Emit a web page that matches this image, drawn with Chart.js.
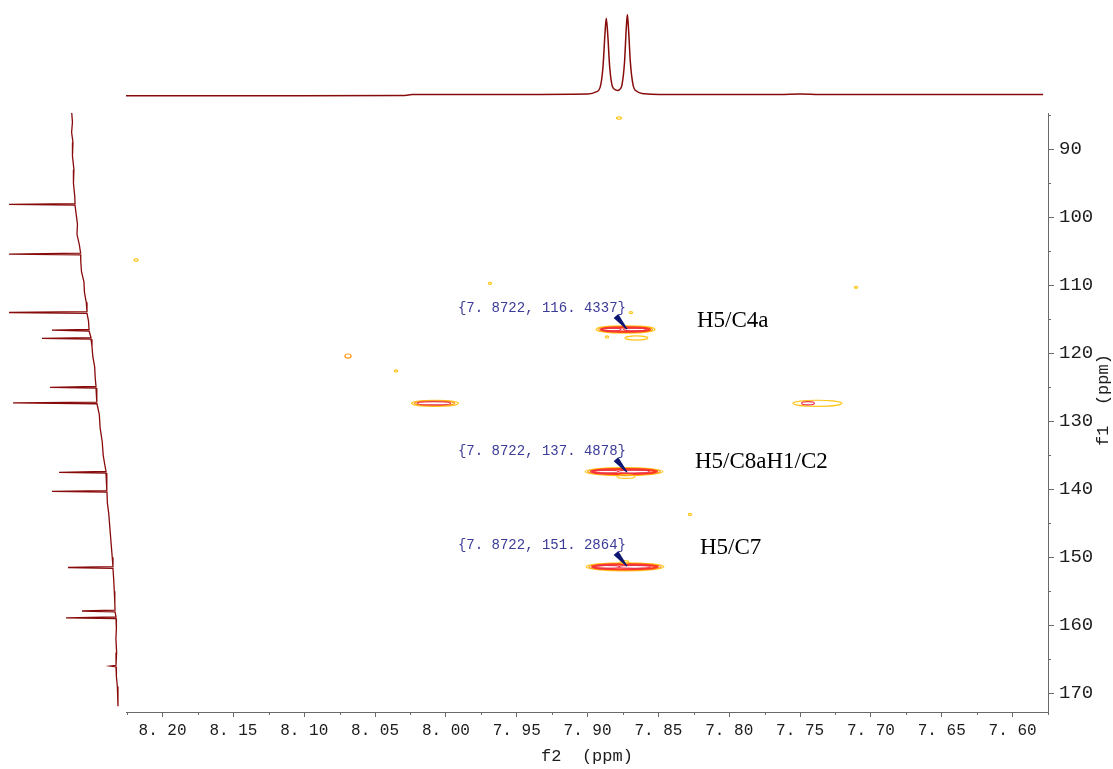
<!DOCTYPE html>
<html>
<head>
<meta charset="utf-8">
<title>HMBC</title>
<script src="https://cdn.jsdelivr.net/npm/chart.js@4.4.1/dist/chart.umd.min.js"></script>
<style>
    html, body { margin: 0; padding: 0; background: #fff; }
    #wrap { position: relative; width: 1113px; height: 769px; }
    #wrap canvas { position: absolute; left: 0; top: 0; }
</style>
</head>
<body>
<div id="wrap">
    <canvas id="mainChart" width="1113" height="769"></canvas>
    <canvas id="topChart" width="1113" height="113"></canvas>
    <canvas id="leftChart" width="126" height="769"></canvas>
</div>
<script>
// =========================
// DATA
// =========================
const f2Min = 7.575, f2Max = 8.2258;
const f1Min = 84.66, f1Max = 172.75;

const f2Ticks = [8.20, 8.15, 8.10, 8.05, 8.00, 7.95, 7.90, 7.85, 7.80, 7.75, 7.70, 7.65, 7.60];
const f2Minor = [8.225, 8.175, 8.125, 8.075, 8.025, 7.975, 7.925, 7.875, 7.825, 7.775, 7.725, 7.675, 7.625, 7.575];
const f1Ticks = [90, 100, 110, 120, 130, 140, 150, 160, 170];
const f1Minor = [85, 95, 105, 115, 125, 135, 145, 155, 165];

// 1H projection (f2)
const topPpm = [8.2258, 8.1030, 8.0289, 8.0239, 7.9618, 7.8997, 7.8940, 7.8912, 7.8891, 7.8877, 7.8868,
                7.8858, 7.8844, 7.8824, 7.8799, 7.8788, 7.8774, 7.8757, 7.8739, 7.8727, 7.8719, 7.8711,
                7.8698, 7.8679, 7.8651, 7.8594, 7.8489, 7.7642, 7.7500, 7.7359, 7.5785];
const topInt = [4.6, 4.6, 4.7, 5.7, 5.9, 6.4, 8.5, 13, 35, 70, 86,
                70, 35, 14, 10.5, 10, 11, 16, 40, 75, 90, 75,
                40, 16, 9, 6.5, 5.8, 5.7, 6.3, 5.8, 5.8];

// 13C projection (f1): sloping, slightly ragged baseline + peaks
const sideBasePpm = [84.66, 86, 87.5, 89, 91, 93, 95, 97, 99.5, 101, 102.5, 104, 106.5, 108, 109.5, 111, 112.5,
                     115.2, 119, 120.5, 122, 123.5, 126, 129, 131, 133, 135, 136.5, 139, 142, 143.5, 146, 148,
                     150, 153, 155, 156.8, 160.5, 162, 164, 167.5, 169, 171.9];
const sideBaseInt = [41.2, 40.6, 41.3, 40.2, 40.6, 39.4, 39.8, 38.7, 37.6, 36.5, 36.9, 35.0, 33.8, 33.2, 31.2, 30.8, 29.3,
                     27.5, 24.6, 23.9, 22.4, 22.0, 20.8, 18.6, 17.9, 16.2, 15.4, 14.0, 12.6, 12.0, 10.9, 9.8, 8.9,
                     8.0, 6.9, 6.3, 5.9, 4.6, 5.0, 4.4, 4.6, 3.8, 3.3];
const sidePeakPpm  = [98.1, 105.4, 114.0, 116.6, 117.8, 125.0, 127.3, 137.5, 140.3, 151.5, 157.9, 158.9, 166.0];
const sidePeakTip  = [92.6, 92.6, 92.6, 57.4, 65.6, 59.0, 89.3, 51.6, 57.4, 44.3, 32.8, 45.9, 9.8];
const sidePeakBase = [38.5, 33.9, 28.7, 27.0, 25.4, 21.3, 20.5, 13.1, 12.3, 7.4, 5.7, 4.9, 4.9];

// contour ellipses: centre (f2, f1), half widths (f2, f1), contour level
const contourF2 = [7.8732, 7.8732, 7.8732, 7.8835, 7.8666, 7.8655, 7.8863, 7.8694,
                   7.8743, 7.8743, 7.8743, 7.8878, 7.8674, 7.8729,
                   7.8736, 7.8736, 7.8736, 7.8870, 7.8668, 7.8740,
                   8.0077, 8.0080, 8.0084,
                   7.7377, 7.7444,
                   7.8778, 8.2187, 7.9689, 7.7105, 8.0691, 8.0352, 7.8277];
const contourF1 = [116.50, 116.50, 116.50, 116.50, 116.50, 117.75, 117.60, 114.00,
                   137.40, 137.40, 137.40, 137.40, 137.40, 138.10,
                   151.40, 151.40, 151.40, 151.40, 151.40, 150.70,
                   127.35, 127.35, 127.35,
                   127.35, 127.35,
                   85.40, 106.30, 109.70, 110.30, 120.40, 122.60, 143.70];
const contourW  = [0.0208, 0.0190, 0.0172, 0.0072, 0.0080, 0.0081, 0.0012, 0.0012,
                   0.0275, 0.0255, 0.0232, 0.0095, 0.0110, 0.0063,
                   0.0275, 0.0255, 0.0232, 0.0095, 0.0110, 0.0030,
                   0.0166, 0.0142, 0.0118,
                   0.0173, 0.0045,
                   0.0018, 0.0015, 0.0012, 0.0012, 0.0022, 0.0012, 0.0012];
const contourH  = [0.52, 0.42, 0.32, 0.20, 0.20, 0.30, 0.15, 0.15,
                   0.60, 0.48, 0.36, 0.22, 0.22, 0.28,
                   0.60, 0.48, 0.36, 0.22, 0.22, 0.20,
                   0.45, 0.34, 0.24,
                   0.45, 0.24,
                   0.18, 0.18, 0.15, 0.15, 0.30, 0.15, 0.15];
const contourLevel = [0, 1, 2, 3, 3, 0, 0, 0,
                      0, 1, 2, 3, 3, 0,
                      0, 1, 2, 3, 3, 0,
                      0, 1, 3,
                      0, 3,
                      0, 0, 0, 0, 1, 0, 0];

// picked peaks
const pickF2 = [7.8722, 7.8722, 7.8722];
const pickF1 = [116.4337, 137.4878, 151.2864];

// assignments
const assignText = ["H5/C4a", "H5/C8aH1/C2", "H5/C7"];
const assignF2 = [7.8228, 7.8242, 7.8207];
const assignF1 = [115.25, 135.99, 148.63];

// =========================
// STYLE
// =========================
const specColor = "#880b0b";
const axisColor = "#6a6a6a";
const textColor = "#1c1c1c";
const levelColor = ["#ffc61a", "#ff9a1a", "#ff3a22", "#e8334d"];
const levelWidth = [1.2, 1.2, 2.2, 1.2];
const monoFont = "'Liberation Mono', 'DejaVu Sans Mono', monospace";

const dotFmt = (s) => s.replace(".", ". ");

// =========================
// PLUGINS (main plot)
// =========================
const contourPlugin = {
    id: "contours",
    afterDatasetsDraw(chart) {
        const { ctx, chartArea, scales: { x, y } } = chart;
        ctx.save();
        ctx.beginPath();
        ctx.rect(chartArea.left, chartArea.top, chartArea.right - chartArea.left, chartArea.bottom - chartArea.top);
        ctx.clip();
        contourF2.forEach((f2, i) => {
            const cx = x.getPixelForValue(f2);
            const cy = y.getPixelForValue(contourF1[i]);
            const rx = Math.abs(x.getPixelForValue(f2 + contourW[i]) - cx);
            const ry = Math.abs(y.getPixelForValue(contourF1[i] + contourH[i]) - cy);
            const lv = contourLevel[i];
            ctx.beginPath();
            ctx.ellipse(cx, cy, rx, ry, 0, 0, Math.PI * 2);
            ctx.strokeStyle = levelColor[lv];
            ctx.lineWidth = levelWidth[lv];
            ctx.stroke();
        });
        ctx.restore();
    }
};

const pickPlugin = {
    id: "picks",
    afterDatasetsDraw(chart) {
        const { ctx, scales: { x, y } } = chart;
        ctx.save();

        // peak pick arrows + coordinates
        pickF2.forEach((f2, i) => {
            const px = x.getPixelForValue(f2);
            const py = y.getPixelForValue(pickF1[i]);
            const tx = px - 11, ty = py - 13;
            const len = Math.hypot(px - tx, py - ty);
            const nx = -(py - ty) / len, ny = (px - tx) / len;
            ctx.beginPath();
            ctx.moveTo(tx + nx * 3, ty + ny * 3);
            ctx.lineTo(px + nx * 0.6, py + ny * 0.6);
            ctx.lineTo(px - nx * 0.6, py - ny * 0.6);
            ctx.lineTo(tx - nx * 3, ty - ny * 3);
            ctx.closePath();
            ctx.fillStyle = "#0d1670";
            ctx.fill();

            ctx.font = "14px " + monoFont;
            ctx.fillStyle = "#3b3b98";
            ctx.textAlign = "right";
            ctx.textBaseline = "middle";
            const label = "{" + dotFmt(f2.toFixed(4)) + ", " + dotFmt(pickF1[i].toFixed(4)) + "}";
            ctx.fillText(label, px - 1, py - 21);
        });

        // assignment labels
        ctx.font = "23px 'Liberation Serif', 'DejaVu Serif', serif";
        ctx.fillStyle = "#000";
        ctx.textAlign = "left";
        ctx.textBaseline = "middle";
        assignText.forEach((t, i) => {
            ctx.fillText(t, x.getPixelForValue(assignF2[i]), y.getPixelForValue(assignF1[i]));
        });
        ctx.restore();
    }
};

const axisExtrasPlugin = {
    id: "axisExtras",
    afterDraw(chart) {
        const { ctx, chartArea, scales: { x, y } } = chart;
        ctx.save();
        ctx.strokeStyle = axisColor;
        ctx.lineWidth = 1;
        ctx.beginPath();
        f2Minor.forEach(v => {
            const px = Math.round(x.getPixelForValue(v)) + 0.5;
            ctx.moveTo(px, chartArea.bottom);
            ctx.lineTo(px, chartArea.bottom + 3);
        });
        f1Minor.forEach(v => {
            const py = Math.round(y.getPixelForValue(v)) + 0.5;
            ctx.moveTo(chartArea.right, py);
            ctx.lineTo(chartArea.right + 3, py);
        });
        ctx.stroke();

        // f1 title reads upward on the right side
        ctx.translate(1103, 400);
        ctx.rotate(-Math.PI / 2);
        ctx.font = "17px " + monoFont;
        ctx.fillStyle = textColor;
        ctx.textAlign = "center";
        ctx.textBaseline = "middle";
        ctx.fillText("f1  (ppm)", 0, 0);
        ctx.restore();
    }
};

// =========================
// MAIN 2D PLOT
// =========================
new Chart(document.getElementById("mainChart"), {
    type: "scatter",
    data: { datasets: [] },
    options: {
        responsive: false,
        animation: false,
        events: [],
        layout: { padding: { left: 126, top: 113, right: 0, bottom: 0 } },
        plugins: { legend: { display: false }, tooltip: { enabled: false } },
        scales: {
            x: {
                type: "linear",
                position: "bottom",
                reverse: true,
                min: f2Min,
                max: f2Max,
                afterBuildTicks: scale => { scale.ticks = f2Ticks.map(v => ({ value: v })); },
                afterFit: scale => { scale.height = 57; },
                ticks: {
                    autoSkip: false,
                    maxRotation: 0,
                    padding: 4,
                    color: textColor,
                    font: { family: monoFont, size: 16 },
                    callback: v => dotFmt(Number(v).toFixed(2))
                },
                grid: { drawOnChartArea: false, tickLength: 5, color: axisColor },
                border: { display: true, color: axisColor, width: 1 },
                title: {
                    display: true,
                    text: "f2  (ppm)",
                    color: textColor,
                    font: { family: monoFont, size: 17 },
                    padding: { top: 0, bottom: 2 }
                }
            },
            y: {
                type: "linear",
                position: "right",
                reverse: true,
                min: f1Min,
                max: f1Max,
                afterBuildTicks: scale => { scale.ticks = f1Ticks.map(v => ({ value: v })); },
                afterFit: scale => { scale.width = 65; },
                ticks: {
                    autoSkip: false,
                    padding: 5,
                    color: textColor,
                    font: { family: monoFont, size: 19 },
                    callback: v => String(v)
                },
                grid: { drawOnChartArea: false, tickLength: 6, color: axisColor },
                border: { display: true, color: axisColor, width: 1 }
            }
        }
    },
    plugins: [contourPlugin, pickPlugin, axisExtrasPlugin]
});

// =========================
// TOP PROJECTION (1H)
// =========================
new Chart(document.getElementById("topChart"), {
    type: "scatter",
    data: {
        datasets: [{
            data: topPpm.map((p, i) => ({ x: p, y: topInt[i] })),
            showLine: true,
            borderColor: specColor,
            borderWidth: 1.5,
            pointRadius: 0,
            cubicInterpolationMode: "monotone"
        }]
    },
    options: {
        responsive: false,
        animation: false,
        events: [],
        layout: { padding: { left: 126, right: 65, top: 5, bottom: 13 } },
        plugins: { legend: { display: false }, tooltip: { enabled: false } },
        scales: {
            x: { type: "linear", display: false, reverse: true, min: f2Min, max: f2Max },
            y: { type: "linear", display: false, min: 0, max: 100 }
        }
    }
});

// =========================
// LEFT PROJECTION (13C)
// =========================
let sidePts = sideBasePpm.map((p, i) => ({ x: sideBaseInt[i], y: p }));
sidePeakPpm.forEach((p, i) => {
    sidePts.push({ x: sidePeakBase[i], y: p - 0.12 });
    sidePts.push({ x: sidePeakTip[i], y: p });
    sidePts.push({ x: sidePeakBase[i], y: p + 0.12 });
});
sidePts.sort((a, b) => a.y - b.y);

new Chart(document.getElementById("leftChart"), {
    type: "scatter",
    data: {
        datasets: [{
            data: sidePts,
            showLine: true,
            borderColor: specColor,
            borderWidth: 1.3,
            pointRadius: 0
        }]
    },
    options: {
        responsive: false,
        animation: false,
        events: [],
        layout: { padding: { left: 0, right: 4, top: 113, bottom: 57 } },
        plugins: { legend: { display: false }, tooltip: { enabled: false } },
        scales: {
            x: { type: "linear", display: false, reverse: true, min: 0, max: 100 },
            y: { type: "linear", display: false, reverse: true, min: f1Min, max: f1Max }
        }
    }
});
</script>
</body>
</html>
